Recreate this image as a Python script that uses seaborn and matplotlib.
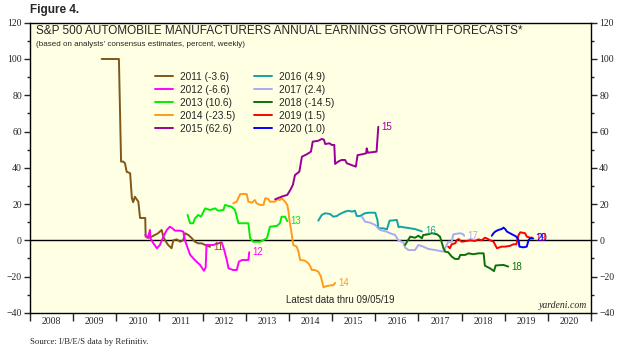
import pandas as pd
import seaborn as sns
import matplotlib.pyplot as plt
from matplotlib.ticker import MultipleLocator, NullFormatter, FixedLocator

sns.set_style('ticks')
plt.rcParams['font.family'] = ['Liberation Sans', 'DejaVu Sans']

# forecast years, their latest values and line colours
series_names = ['2011', '2012', '2013', '2014', '2015', '2016', '2017', '2018', '2019', '2020']
final_values = [-3.6, -6.6, 10.6, -23.5, 62.6, 4.9, 2.4, -14.5, 1.5, 1.0]
colors = ['#80561B', '#FF00FF', '#00EE00', '#FF9A1A', '#990099',
          '#10A5A5', '#AAAAF5', '#0A700A', '#FF0000', '#0000FF']

# weekly consensus forecasts (date as decimal year, percent)
t_2011 = [2009.66, 2010.06, 2010.11, 2010.16, 2010.20, 2010.24, 2010.32, 2010.36, 2010.39, 2010.43,
          2010.51, 2010.55, 2010.67, 2010.68, 2010.74, 2010.82, 2010.90, 2010.97, 2011.05, 2011.09,
          2011.13, 2011.20, 2011.28, 2011.32, 2011.40, 2011.48, 2011.55, 2011.59, 2011.67, 2011.75,
          2011.82, 2011.90, 2011.98, 2012.06, 2012.17]
v_2011 = [100, 100, 43.4, 43.4, 42.5, 37.8, 37, 23.3, 21, 24,
          21.3, 12.3, 12.3, 2, 1.3, 2, 3, 3.9, 5.7, 2,
          0, -2.6, -4.4, 0, 0.5, -0.8, 0, 3.9, 2.9, 1.1,
          -0.8, -1.7, -1.7, -2.6, -3.6]

t_2012 = [2010.67, 2010.73, 2010.78, 2010.79, 2010.86, 2010.94, 2011.01, 2011.09, 2011.17, 2011.24,
          2011.30, 2011.36, 2011.48, 2011.55, 2011.59, 2011.67, 2011.71, 2011.82, 2011.94, 2012.03,
          2012.07, 2012.09, 2012.25, 2012.36, 2012.44, 2012.50, 2012.56, 2012.60, 2012.71, 2012.79,
          2012.84, 2012.91, 2013.06, 2013.08]
v_2012 = [2.9, 1.5, 5.7, 1, -1.7, -4.4, -2.6, 2, 5.7, 7.5,
          6.6, 5.3, 5.3, 4.8, 0, -5.4, -8, -10.9, -13.6, -16.8,
          -15, -2.6, -2.6, -1.7, -1.1, -5.4, -10.9, -15.5, -16.4, -16.4,
          -11.8, -10.9, -10.9, -6.6]

t_2013 = [2011.65, 2011.71, 2011.78, 2011.82, 2011.90, 2011.96, 2012.02, 2012.06, 2012.17, 2012.29,
          2012.36, 2012.48, 2012.52, 2012.60, 2012.67, 2012.75, 2012.79, 2012.83, 2013.06, 2013.10,
          2013.17, 2013.33, 2013.49, 2013.56, 2013.72, 2013.79, 2013.83, 2013.91, 2013.96]
v_2013 = [14, 9.4, 9.4, 12, 14, 13, 15.8, 17.6, 16.7, 17.6,
          16.3, 16.7, 19.5, 18.9, 18.5, 16.7, 13, 9.4, 9.4, 1.1,
          -0.8, -0.8, 1.1, 7.5, 7.9, 9.4, 13, 13, 10.6]

t_2014 = [2012.71, 2012.79, 2012.87, 2013.02, 2013.06, 2013.14, 2013.21, 2013.25, 2013.33, 2013.41,
          2013.45, 2013.52, 2013.56, 2013.68, 2013.72, 2013.79, 2013.83, 2013.91, 2013.96, 2013.99,
          2014.01, 2014.06, 2014.10, 2014.18, 2014.22, 2014.26, 2014.37, 2014.45, 2014.49, 2014.53,
          2014.60, 2014.68, 2014.74, 2014.80, 2014.88, 2015.03, 2015.07]
v_2014 = [20.4, 21.3, 25.5, 25.5, 21.3, 20.7, 22.2, 20.4, 19.5, 19.5,
          23.2, 22.8, 21.3, 21.3, 22.6, 22.2, 23.2, 21.3, 19.5, 15.8,
          11.2, 3.9, -2.6, -3.5, -6.3, -10.9, -11.2, -12.7, -14.2, -16.4,
          -16.4, -17.3, -20, -25.9, -25.2, -24.7, -23.5]

t_2015 = [2013.68, 2013.79, 2013.87, 2013.96, 2014.03, 2014.09, 2014.14, 2014.24, 2014.30, 2014.41,
          2014.51, 2014.55, 2014.68, 2014.76, 2014.81, 2014.84, 2014.94, 2014.99, 2015.05, 2015.07,
          2015.14, 2015.22, 2015.30, 2015.34, 2015.45, 2015.55, 2015.59, 2015.69, 2015.79, 2015.80,
          2015.83, 2016.03, 2016.07]
v_2015 = [22.6, 23.7, 24.4, 25, 27.7, 30.5, 36, 37.8, 46.1, 47.4,
          48.9, 54.4, 54.9, 55.9, 55.5, 53.1, 53.5, 52.6, 52.6, 42.1,
          43.4, 44.3, 44.3, 42.5, 41.5, 40.6, 47, 47.4, 48, 50.7,
          48.3, 48.9, 62.6]

t_2016 = [2014.68, 2014.76, 2014.84, 2014.95, 2015.03, 2015.11, 2015.18, 2015.30, 2015.38, 2015.46,
          2015.53, 2015.57, 2015.65, 2015.76, 2015.84, 2016.00, 2016.05, 2016.07, 2016.19, 2016.27,
          2016.33, 2016.50, 2016.54, 2016.57, 2016.81, 2016.92, 2017.08]
v_2016 = [10.8, 14, 14.9, 14.5, 13, 13.4, 14.5, 15.8, 16.3, 15.8,
          16.3, 13.4, 13.4, 14.9, 15.2, 15.2, 11.2, 6.6, 6.6, 6,
          10.8, 11.2, 7.2, 7.5, 6.6, 6.2, 4.9]

t_2017 = [2015.69, 2015.76, 2015.88, 2016.00, 2016.07, 2016.11, 2016.27, 2016.34, 2016.46, 2016.54,
          2016.65, 2016.69, 2016.77, 2016.92, 2017.00, 2017.11, 2017.23, 2017.39, 2017.50, 2017.58,
          2017.69, 2017.77, 2017.81, 2017.97, 2018.04, 2018.06]
v_2017 = [13, 10.3, 9.7, 8.4, 6.6, 5.7, 4.7, 3.9, 2.9, -0.2,
          -1.1, -4, -5.4, -5.4, -2.6, -3.5, -4.8, -5.4, -5.9, -6.3,
          -0.8, -0.8, 3.3, 3.9, 3.3, 2.4]

t_2018 = [2016.69, 2016.81, 2016.92, 2017.00, 2017.08, 2017.11, 2017.23, 2017.31, 2017.43, 2017.50,
          2017.58, 2017.62, 2017.69, 2017.77, 2017.85, 2017.93, 2017.97, 2018.08, 2018.16, 2018.27,
          2018.39, 2018.51, 2018.54, 2018.66, 2018.75, 2018.79, 2018.97, 2019.08]
v_2018 = [-2.6, 2, 1.4, 2.5, 1.1, 2.9, 3.3, 3.9, 3.3, 2,
          -4.4, -6.3, -6.6, -9, -10.3, -10.3, -8.1, -8.1, -7.2, -7.7,
          -7.2, -7.2, -14, -15.5, -17, -13.9, -13.6, -14.5]

t_2019 = [2017.69, 2017.73, 2017.77, 2017.85, 2017.89, 2017.93, 2018.00, 2018.12, 2018.20, 2018.31,
          2018.39, 2018.47, 2018.54, 2018.58, 2018.66, 2018.74, 2018.78, 2018.82, 2018.93, 2019.01,
          2019.12, 2019.20, 2019.27, 2019.32, 2019.36, 2019.47, 2019.51, 2019.59, 2019.63]
v_2019 = [-3.5, -4.4, -2.2, -1.7, 0, 0.7, -0.8, -0.4, 0, -0.4,
          0.5, 0, 1.4, 1.1, 0, -0.8, -2.6, -4.4, -3.5, -3.5,
          -3.1, -2.2, -2.2, 2.9, 4.4, 3.9, 2, 1.4, 1.5]

t_2020 = [2018.70, 2018.74, 2018.78, 2018.85, 2018.93, 2018.97, 2019.01, 2019.05, 2019.12, 2019.20,
          2019.27, 2019.32, 2019.34, 2019.43, 2019.51, 2019.55, 2019.59, 2019.66]
v_2020 = [2.5, 3.9, 4.8, 5.7, 6.2, 7, 6.2, 4.8, 3.9, 2.9,
          2, 0, -3.5, -3.9, -3.5, 0, 1.1, 1.0]

dates = [t_2011, t_2012, t_2013, t_2014, t_2015, t_2016, t_2017, t_2018, t_2019, t_2020]
values = [v_2011, v_2012, v_2013, v_2014, v_2015, v_2016, v_2017, v_2018, v_2019, v_2020]

year_labels = [str(y) for y in range(2008, 2021)]

labels = [f'{n} ({f:.1f})' for n, f in zip(series_names, final_values)]
frames = []
for lab, t, v in zip(labels, dates, values):
    frames.append(pd.DataFrame({'date': t, 'growth': v, 'series': lab}))
df = pd.concat(frames, ignore_index=True)

fig = plt.figure(figsize=(6.29, 3.52), dpi=100)
ax = fig.add_axes([0.0477, 0.1114, 0.892, 0.824])
ax.set_facecolor('#FFFFE3')

ax.axhline(0, color='black', lw=1.0, zorder=1)
sns.lineplot(data=df, x='date', y='growth', hue='series', palette=dict(zip(labels, colors)),
             estimator=None, sort=False, lw=1.4, ax=ax)

# short labels at the end of each line
for n, c, t, v in zip(series_names, colors, dates, values):
    ax.text(t[-1] + 0.07, v[-1], n[2:], color=c, fontsize=7, va='center', ha='left')

ax.set_xlim(2008, 2021)
ax.set_ylim(-40, 120)
ax.set_xlabel('')
ax.set_ylabel('')

# x axis: ticks at year boundaries, labels centred in each year
ax.xaxis.set_major_locator(MultipleLocator(1))
ax.xaxis.set_major_formatter(NullFormatter())
ax.xaxis.set_minor_locator(FixedLocator([y + 0.5 for y in range(2008, 2021)]))
ax.set_xticklabels(year_labels, minor=True)
ax.tick_params(axis='x', which='major', direction='out', length=5.8, width=1)
ax.tick_params(axis='x', which='minor', length=0, pad=3, labelsize=7)

ax.yaxis.set_major_locator(MultipleLocator(20))
ax.yaxis.set_minor_locator(MultipleLocator(10))
ax.tick_params(axis='y', which='both', direction='out', left=True, right=True,
               labelleft=True, labelright=True, labelsize=7, pad=1.5, width=1)
ax.tick_params(axis='y', which='major', length=4.3)
ax.tick_params(axis='y', which='minor', length=2.2)
for lbl in ax.get_xticklabels(minor=True) + ax.get_yticklabels():
    lbl.set_family('Liberation Serif')

for s in ax.spines.values():
    s.set_color('black')
    s.set_linewidth(1)

ax.legend(ncol=2, frameon=False, loc='upper left', bbox_to_anchor=(0.2228, 0.831),
          borderaxespad=0, borderpad=0, handlelength=1.8, handletextpad=0.7,
          columnspacing=1.8, labelspacing=0.3, fontsize=7.3)

W, H = 629, 352
fig.text(30 / W, 1 - 10 / H, 'Figure 4.', fontsize=8.5, fontweight='bold', va='center')
fig.text(36 / W, 1 - 30.5 / H, 'S&P 500 AUTOMOBILE MANUFACTURERS ANNUAL EARNINGS GROWTH FORECASTS*',
         fontsize=8.45, va='center')
fig.text(36 / W, 1 - 44 / H, "(based on analysts' consensus estimates, percent, weekly)",
         fontsize=5.8, va='center')
fig.text(286 / W, 1 - 300 / H, 'Latest data thru 09/05/19', fontsize=7, va='center')
fig.text(587 / W, 1 - 306 / H, 'yardeni.com', fontsize=7, va='center', ha='right',
         style='italic', family='Liberation Serif')
fig.text(30 / W, 1 - 342 / H, 'Source: I/B/E/S data by Refinitiv.', fontsize=6.3, va='center',
         family='Liberation Serif')

fig.savefig('out.png', dpi=100, facecolor='white')
